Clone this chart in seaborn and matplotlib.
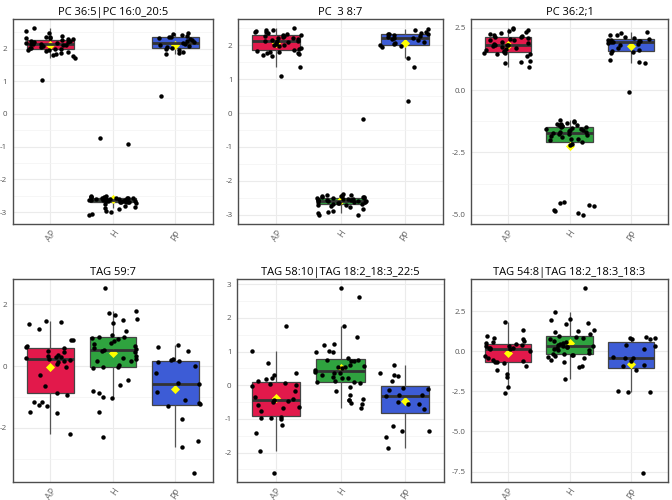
import numpy as np
import pandas as pd
import matplotlib.pyplot as plt
import seaborn as sns
from matplotlib.ticker import FixedLocator

groups = ['AP', 'H', 'PP']
palette = {'AP': '#E2194B', 'H': '#2FA33F', 'PP': '#3D5CD6'}

# PC 36:5|PC 16:0_20:5
pc365_ap = [2.62, 2.55, 2.48, 2.38, 2.36, 2.35, 2.33, 2.32, 2.30, 2.28, 2.26, 2.24, 2.22, 2.20,
            2.19, 2.18, 2.16, 2.15, 2.15, 2.14, 2.12, 2.10, 2.08, 2.05, 2.03, 2.01, 2.00, 1.98,
            1.97, 1.95, 1.93, 1.90, 1.85, 1.82, 1.80, 1.78, 1.70, 1.05]
pc365_h = [-0.72, -0.93, -2.50, -2.52, -2.53, -2.54, -2.55, -2.56, -2.56, -2.57, -2.58, -2.58,
           -2.59, -2.60, -2.60, -2.61, -2.62, -2.62, -2.63, -2.64, -2.64, -2.65, -2.65, -2.66,
           -2.67, -2.67, -2.68, -2.69, -2.69, -2.70, -2.70, -2.72, -2.75, -2.80, -2.85, -2.88,
           -2.92, -2.98, -3.00, -3.05, -3.08]
pc365_pp = [2.48, 2.45, 2.42, 2.38, 2.36, 2.35, 2.33, 2.30, 2.27, 2.24, 2.20, 2.18, 2.15, 2.12,
            2.08, 2.05, 2.02, 2.00, 1.97, 1.90, 1.88, 1.82, 0.55]

# PC 38:7
pc387_ap = [2.50, 2.46, 2.44, 2.42, 2.40, 2.38, 2.36, 2.33, 2.31, 2.30, 2.28, 2.26, 2.25, 2.22,
            2.20, 2.18, 2.16, 2.14, 2.13, 2.12, 2.10, 2.07, 2.05, 2.02, 2.00, 1.97, 1.93, 1.90,
            1.87, 1.84, 1.81, 1.80, 1.78, 1.76, 1.74, 1.70, 1.68, 1.35, 1.10]
pc387_h = [-0.17, -2.40, -2.42, -2.43, -2.44, -2.45, -2.46, -2.47, -2.48, -2.49, -2.50, -2.51,
           -2.52, -2.53, -2.54, -2.55, -2.56, -2.57, -2.58, -2.58, -2.59, -2.60, -2.61, -2.62,
           -2.63, -2.64, -2.65, -2.66, -2.67, -2.68, -2.70, -2.72, -2.75, -2.78, -2.82, -2.88,
           -2.93, -2.96, -3.00, -3.00]
pc387_pp = [2.49, 2.45, 2.40, 2.36, 2.34, 2.33, 2.32, 2.30, 2.28, 2.25, 2.22, 2.20, 2.18, 2.15,
            2.10, 2.06, 2.03, 2.00, 1.98, 1.95, 1.62, 1.37, 0.35]

# PC 36:2;1
pc362_ap = [2.48, 2.45, 2.42, 2.38, 2.35, 2.30, 2.25, 2.22, 2.18, 2.15, 2.12, 2.10, 2.05, 2.02,
            2.00, 1.95, 1.90, 1.86, 1.83, 1.82, 1.80, 1.78, 1.75, 1.70, 1.65, 1.60, 1.55, 1.52,
            1.50, 1.48, 1.46, 1.44, 1.35, 1.15, 1.12, 1.10, 0.93]
pc362_h = [-1.18, -1.22, -1.28, -1.32, -1.35, -1.38, -1.40, -1.42, -1.44, -1.46, -1.48, -1.50,
           -1.52, -1.55, -1.58, -1.60, -1.62, -1.65, -1.67, -1.70, -1.72, -1.75, -1.78, -1.82,
           -1.86, -1.90, -1.95, -1.98, -2.02, -2.08, -2.15, -2.20, -4.50, -4.55, -4.62, -4.65,
           -4.80, -4.85, -4.92, -5.00]
pc362_pp = [2.35, 2.30, 2.22, 2.20, 2.15, 2.10, 2.05, 2.02, 2.00, 1.98, 1.96, 1.94, 1.92, 1.90,
            1.85, 1.80, 1.70, 1.60, 1.55, 1.52, 1.50, 1.22, 1.12, 1.10, -0.06]

# TAG 59:7
tag597_ap = [1.45, 1.42, 1.35, 1.20, 0.85, 0.83, 0.65, 0.62, 0.58, 0.50, 0.45, 0.35, 0.32, 0.30,
             0.28, 0.25, 0.23, 0.21, 0.18, 0.12, 0.08, -0.03, -0.28, -0.65, -0.88, -0.95, -1.15,
             -1.17, -1.26, -1.28, -1.48, -1.52, -2.18]
tag597_h = [2.52, 1.78, 1.72, 1.66, 1.52, 1.50, 1.38, 1.15, 1.00, 0.95, 0.93, 0.90, 0.87, 0.82,
            0.75, 0.70, 0.65, 0.60, 0.55, 0.52, 0.50, 0.45, 0.32, 0.25, 0.22, 0.18, 0.15, 0.05,
            -0.02, -0.03, -0.05, -0.45, -0.60, -0.82, -0.88, -1.00, -1.03, -1.48, -2.30]
tag597_pp = [0.68, 0.62, 0.48, 0.23, 0.20, 0.16, 0.14, 0.02, -0.22, -0.55, -0.58, -0.85, -1.08,
             -1.20, -1.24, -1.28, -1.72, -2.42, -2.62, -3.45]

# TAG 58:10|TAG 18:2_18:3_22:5
tag5810_ap = [1.75, 1.02, 0.65, 0.35, 0.30, 0.20, 0.18, 0.12, 0.08, 0.05, 0.02, -0.03, -0.18,
              -0.35, -0.42, -0.45, -0.48, -0.50, -0.60, -0.65, -0.68, -0.78, -0.95, -0.97,
              -0.98, -1.00, -1.18, -1.42, -1.95, -2.60]
tag5810_h = [2.88, 2.62, 1.77, 1.42, 1.22, 1.18, 1.03, 1.00, 0.98, 0.80, 0.76, 0.75, 0.73, 0.72,
             0.60, 0.58, 0.55, 0.55, 0.50, 0.45, 0.38, 0.36, 0.35, 0.30, 0.25, 0.22, 0.20, 0.12,
             0.10, 0.10, 0.06, -0.05, -0.17, -0.30, -0.42, -0.43, -0.45, -0.53, -0.57, -0.67]
tag5810_pp = [0.60, 0.35, 0.30, 0.27, 0.12, -0.08, -0.12, -0.14, -0.28, -0.30, -0.33, -0.50,
              -0.55, -0.57, -0.70, -1.22, -1.35, -1.37, -1.55, -1.85]

# TAG 54:8|TAG 18:2_18:3_18:3
tag548_ap = [1.80, 1.33, 0.95, 0.85, 0.75, 0.62, 0.55, 0.50, 0.45, 0.40, 0.35, 0.30, 0.22, 0.20,
             0.18, 0.16, 0.12, 0.02, -0.30, -0.40, -0.55, -0.60, -0.65, -0.70, -0.75, -0.95,
             -1.15, -1.40, -1.60, -2.20, -2.58]
tag548_h = [3.92, 2.42, 2.00, 1.95, 1.75, 1.68, 1.35, 1.28, 1.20, 1.05, 0.95, 0.90, 0.85, 0.75,
            0.65, 0.60, 0.52, 0.45, 0.40, 0.35, 0.32, 0.28, 0.25, 0.20, 0.15, 0.10, 0.05, -0.10,
            -0.15, -0.20, -0.22, -0.25, -0.30, -0.35, -0.45, -0.55, -0.65, -0.90, -1.00, -1.75]
tag548_pp = [0.90, 0.85, 0.80, 0.78, 0.75, 0.40, 0.35, 0.15, -0.35, -0.40, -0.45, -0.60, -0.85,
             -0.90, -1.15, -2.45, -2.52, -2.55, -7.57]

titles = ['PC 36:5|PC 16:0_20:5', 'PC  3 8:7', 'PC 36:2;1',
          'TAG 59:7', 'TAG 58:10|TAG 18:2_18:3_22:5', 'TAG 54:8|TAG 18:2_18:3_18:3']
series = [(pc365_ap, pc365_h, pc365_pp), (pc387_ap, pc387_h, pc387_pp),
          (pc362_ap, pc362_h, pc362_pp), (tag597_ap, tag597_h, tag597_pp),
          (tag5810_ap, tag5810_h, tag5810_pp), (tag548_ap, tag548_h, tag548_pp)]
yticks = [[-3, -2, -1, 0, 1, 2], [-3, -2, -1, 0, 1, 2], [-5.0, -2.5, 0.0, 2.5],
          [-2, 0, 2], [-2, -1, 0, 1, 2, 3], [-7.5, -5.0, -2.5, 0.0, 2.5]]
ytick_fmt = ['{:.0f}', '{:.0f}', '{:.1f}', '{:.0f}', '{:.0f}', '{:.1f}']

# axes rectangles in figure fraction (left, bottom, width, height)
rects = [[0.0193, 0.552, 0.2976, 0.41], [0.3542, 0.552, 0.3051, 0.41], [0.7009, 0.552, 0.2932, 0.41],
         [0.0193, 0.036, 0.2976, 0.406], [0.3527, 0.036, 0.3080, 0.406], [0.7009, 0.036, 0.2932, 0.406]]

sns.set_style('white')
plt.rcParams['font.family'] = ['Open Sans', 'DejaVu Sans']
plt.rcParams['axes.unicode_minus'] = False
np.random.seed(11)

fig = plt.figure(figsize=(6.72, 5), dpi=100)

for i in range(6):
    ap, h, pp = series[i]
    df = pd.DataFrame({'group': ['AP'] * len(ap) + ['H'] * len(h) + ['PP'] * len(pp),
                       'value': ap + h + pp})
    ax = fig.add_axes(rects[i])

    sns.boxplot(data=df, x='group', y='value', hue='group', order=groups, hue_order=groups,
                palette=palette, saturation=1, width=0.75, showfliers=False, showcaps=False,
                linecolor='#444444', linewidth=0.9,
                medianprops={'linewidth': 2.0, 'color': '#333333'},
                whiskerprops={'color': '#555555'},
                legend=False, ax=ax)
    sns.stripplot(data=df, x='group', y='value', order=groups, color='black', size=3.2,
                  jitter=0.4, ax=ax, zorder=3)
    sns.pointplot(data=df, x='group', y='value', order=groups, estimator='mean', errorbar=None,
                  color='#FFFF00', marker='D', markersize=2.6, linestyle='none', ax=ax)

    vmin, vmax = df['value'].min(), df['value'].max()
    pad = (vmax - vmin) * 0.05
    ax.set_ylim(vmin - pad, vmax + pad)
    ax.set_xlim(-0.6, 2.6)

    ticks = yticks[i]
    ax.yaxis.set_major_locator(FixedLocator(ticks))
    ax.set_yticklabels([ytick_fmt[i].format(t) for t in ticks])
    step = ticks[1] - ticks[0]
    minors = [t + step / 2 for t in [ticks[0] - step] + ticks]
    ax.yaxis.set_minor_locator(FixedLocator(minors))

    ax.set_xticks(range(3))
    ax.set_xticklabels(groups, rotation=55, ha='right', rotation_mode='anchor',
                       fontsize=6.5, color='#666666')

    ax.set_axisbelow(True)
    ax.grid(True, which='major', color='#EBEBEB', linewidth=0.8)
    ax.grid(True, which='minor', axis='y', color='#F3F3F3', linewidth=0.5)
    ax.tick_params(axis='both', which='major', length=2.5, width=0.6, color='#555555',
                   labelsize=5.8, labelcolor='#555555', pad=1.5)
    ax.tick_params(axis='x', which='major', labelsize=6.5, labelcolor='#666666', pad=1)
    ax.tick_params(axis='both', which='minor', length=0)
    for sp in ax.spines.values():
        sp.set_color('#4d4d4d')
        sp.set_linewidth(1.0)

    ax.set_xlabel('')
    ax.set_ylabel('')
    ax.set_title(titles[i], fontsize=8, pad=3, color='black')

plt.savefig('out.png', dpi=100)
